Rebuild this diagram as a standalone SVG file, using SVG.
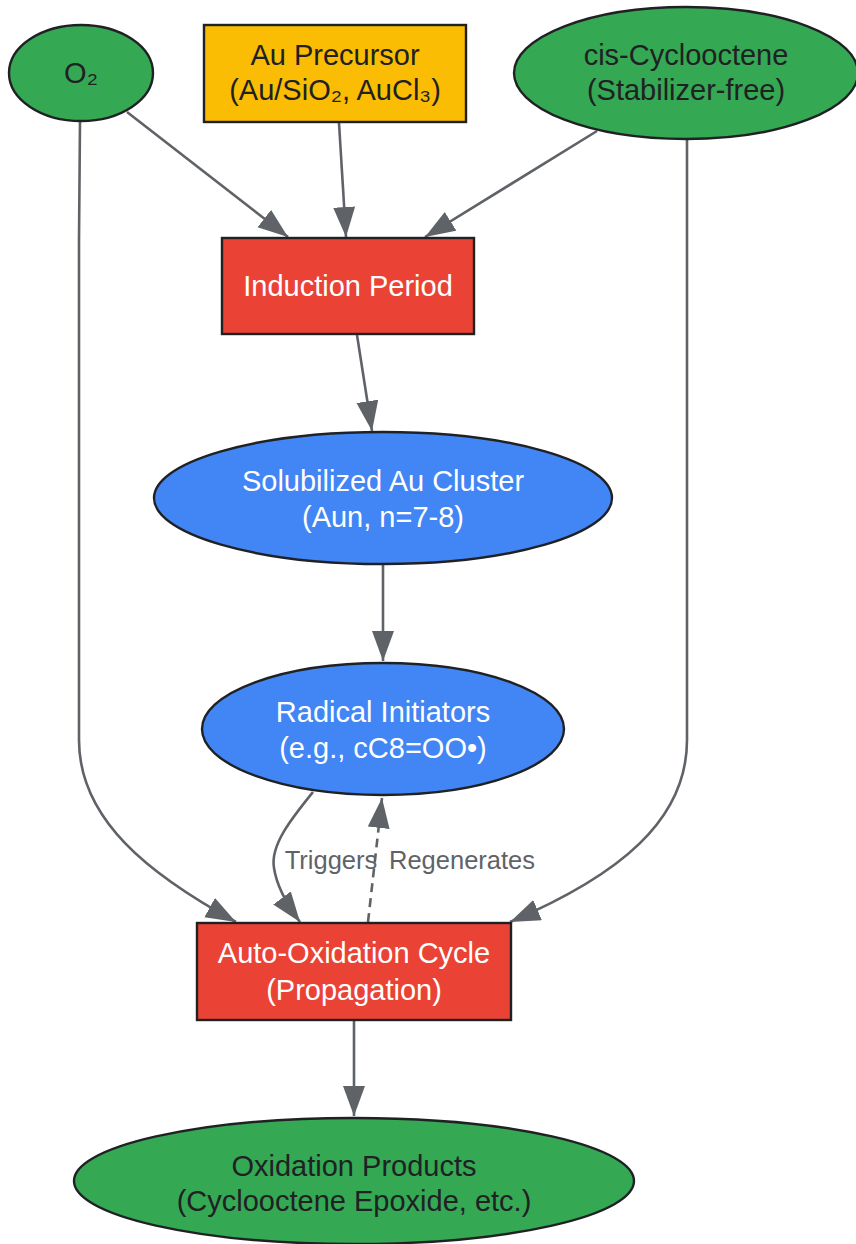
<svg xmlns="http://www.w3.org/2000/svg" width="856" height="1244" viewBox="0 0 856 1244">
<style>
.node{stroke:#202124;stroke-width:2.4}
.green{fill:#34a853}.yellow{fill:#fbbc04}.red{fill:#ea4335}.blue{fill:#4285f4}
text{font-family:"Liberation Sans",Arial,sans-serif;font-size:29px;text-anchor:middle}
.dark{fill:#202124}.light{fill:#ffffff}
.edge{fill:none;stroke:#5f6368;stroke-width:2.6;marker-end:url(#arr)}
.dash{stroke-dasharray:9,6}
.elabel{fill:#5f6368;font-size:25.5px}
</style>
<defs>
<marker id="arr" markerUnits="userSpaceOnUse" markerWidth="32" markerHeight="24" refX="30" refY="11" orient="auto">
<path d="M0,0 L30,11 L0,22 z" fill="#5f6368"/>
</marker>
</defs>
<g id="connectors">
<path class="edge" d="M127,112 L288,237"/>
<path class="edge" d="M339,123 L346,237"/>
<path class="edge" d="M597,131 L425,237"/>
<path class="edge" d="M357,335 L372,431"/>
<path class="edge" d="M383,565 L383,661"/>
<path class="edge" d="M80,121 L79,240 L79,740 C79,820 150,875 236,922"/>
<path class="edge" d="M687,139 L687,740 C687,820 620,875 510,922"/>
<path class="edge" d="M313,792 C292,818 270,845 274,868 C277,888 288,906 300,922"/>
<path class="edge dash" d="M368,922 L382,798"/>
<path class="edge" d="M354,1021 L354,1116"/>
<text class="elabel" x="331" y="869">Triggers</text>
<text class="elabel" x="462" y="869">Regenerates</text>
</g>
<g id="o2">
<ellipse class="node green" cx="81" cy="73" rx="72" ry="48"/>
<text class="dark" x="81" y="83">O₂</text>
</g>
<g id="au-precursor">
<rect class="node yellow" x="204" y="25" width="262" height="97"/>
<text class="dark" x="335" y="65">Au Precursor</text>
<text class="dark" x="335" y="100">(Au/SiO₂, AuCl₃)</text>
</g>
<g id="cyclooctene">
<ellipse class="node green" cx="686" cy="73" rx="172" ry="66"/>
<text class="dark" x="686" y="65">cis-Cyclooctene</text>
<text class="dark" x="686" y="100">(Stabilizer-free)</text>
</g>
<g id="induction">
<rect class="node red" x="222" y="238" width="252" height="96"/>
<text class="light" x="348" y="296">Induction Period</text>
</g>
<g id="au-cluster">
<ellipse class="node blue" cx="383" cy="498" rx="229" ry="66"/>
<text class="light" x="383" y="491">Solubilized Au Cluster</text>
<text class="light" x="383" y="527">(Aun, n=7-8)</text>
</g>
<g id="radical">
<ellipse class="node blue" cx="383" cy="729" rx="181" ry="66"/>
<text class="light" x="383" y="722">Radical Initiators</text>
<text class="light" x="383" y="758">(e.g., cC8=OO•)</text>
</g>
<g id="auto-oxidation">
<rect class="node red" x="197" y="923" width="314" height="97"/>
<text class="light" x="354" y="963">Auto-Oxidation Cycle</text>
<text class="light" x="354" y="1000">(Propagation)</text>
</g>
<g id="products">
<ellipse class="node green" cx="354" cy="1181" rx="280" ry="63"/>
<text class="dark" x="354" y="1176">Oxidation Products</text>
<text class="dark" x="354" y="1211">(Cyclooctene Epoxide, etc.)</text>
</g>
</svg>
